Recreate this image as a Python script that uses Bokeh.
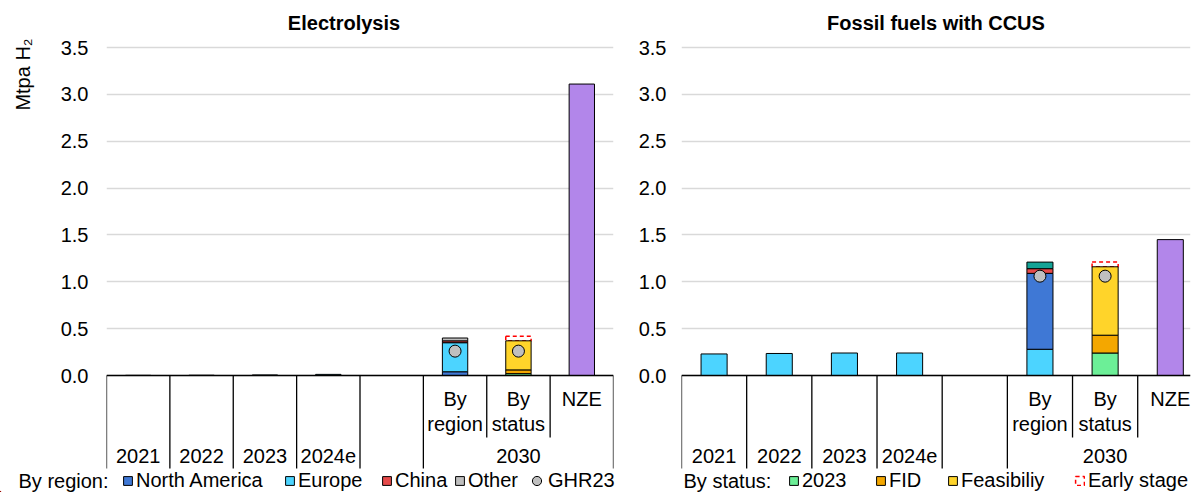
import math
from bokeh.plotting import figure
from bokeh.models import (Range1d, FixedTicker, NumeralTickFormatter, ColumnDataSource,
                          Legend, LegendItem, Span)
from bokeh.layouts import row, column
from bokeh.embed import file_html
from bokeh.resources import INLINE
from bokeh.core.properties import value

FONT = "Liberation Sans"
NAN = float("nan")

# ---------------- data ----------------
categories = ["2021", "2022", "2023", "2024e", "", "By region", "By status", "NZE"]
year_labels = ["2021", "2022", "2023", "2024e", "2030"]
year_label_slots = [0, 1, 2, 3, 6]          # 2030 spans the last three slots
sub_labels = ["By\nregion", "By\nstatus", "NZE"]
sub_label_slots = [5, 6, 7]
y_ticks = [0.0, 0.5, 1.0, 1.5, 2.0, 2.5, 3.0, 3.5]
y_label = "Mtpa H₂"

# Electrolysis (Mtpa H2)
el_north_america = [0, 0, 0, 0, 0, 0.04, 0, 0]
el_europe = [0.002, 0.003, 0.006, 0.012, 0, 0.31, 0, 0]
el_china = [0, 0, 0, 0, 0, 0.02, 0, 0]
el_other = [0, 0, 0, 0, 0, 0.03, 0, 0]
el_status_2023 = [0, 0, 0, 0, 0, 0, 0.02, 0]
el_fid = [0, 0, 0, 0, 0, 0, 0.04, 0]
el_feasibility = [0, 0, 0, 0, 0, 0, 0.31, 0]
el_early_stage = [0, 0, 0, 0, 0, 0, 0.05, 0]
el_nze = [0, 0, 0, 0, 0, 0, 0, 3.11]
el_ghr23 = [NAN, NAN, NAN, NAN, NAN, 0.26, 0.26, NAN]

# Fossil fuels with CCUS (Mtpa H2)
cc_europe = [0.23, 0.235, 0.24, 0.24, 0, 0.28, 0, 0]
cc_north_america = [0, 0, 0, 0, 0, 0.81, 0, 0]
cc_china = [0, 0, 0, 0, 0, 0.05, 0, 0]
cc_other = [0, 0, 0, 0, 0, 0.07, 0, 0]
cc_status_2023 = [0, 0, 0, 0, 0, 0, 0.24, 0]
cc_fid = [0, 0, 0, 0, 0, 0, 0.19, 0]
cc_feasibility = [0, 0, 0, 0, 0, 0, 0.73, 0]
cc_early_stage = [0, 0, 0, 0, 0, 0, 0.05, 0]
cc_nze = [0, 0, 0, 0, 0, 0, 0, 1.45]
cc_ghr23 = [NAN, NAN, NAN, NAN, NAN, 1.06, 1.06, NAN]

region_legend = ["North America", "Europe", "China", "Other"]
status_legend = ["2023", "FID", "Feasibiliy", "Early stage"]

# ---------------- colours ----------------
C_NA = "#3F78D5"
C_EU = "#4CD4FF"
C_CN = "#E64A4A"
C_OTHER_L = "#BFBFBF"
C_OTHER_R = "#14A396"
C_2023 = "#6CEF97"
C_FID = "#F4A700"
C_FEAS = "#FFD42A"
C_EARLY = "#FF0000"
C_NZE = "#B286EA"
C_GHR = "#BFBFBF"
GRID = "#D9D9D9"

# ---------------- layout (page pixels) ----------------
CHART_H = 469
GRID_TOP = 47        # y of the 3.5 gridline
ZERO_Y = 375         # y of the 0.0 line
TITLE_Y = 22
PX_PER_UNIT = (ZERO_Y - GRID_TOP) / 3.5
Y_TOP = (ZERO_Y) / PX_PER_UNIT
Y_BOTTOM = -(CHART_H - ZERO_Y) / PX_PER_UNIT
YLAB_W = 40


def py(page_y):
    """page y pixel -> data value"""
    return (ZERO_Y - page_y) / PX_PER_UNIT


def bar_style(p, dashed, color, **kw):
    if dashed:
        return p.vbar(width=0.4, fill_alpha=0, line_color=C_EARLY, line_dash="4 3",
                      line_width=1.5, **kw)
    return p.vbar(width=0.4, fill_color=color, line_color="black", line_width=1, **kw)


def make_chart(title, title_x, series, ghr, width, bl, br, x_end, standoff):
    p = figure(width=width, height=CHART_H, x_range=Range1d(0, x_end),
               y_range=Range1d(Y_BOTTOM, Y_TOP), x_axis_location=None,
               toolbar_location=None, output_backend="svg",
               min_border_left=bl, min_border_right=br, min_border_top=0,
               min_border_bottom=0, outline_line_color=None)

    p.xgrid.visible = False
    ax = p.yaxis[0]
    ax.ticker = FixedTicker(ticks=y_ticks)
    ax.formatter = NumeralTickFormatter(format="0.0")
    ax.axis_line_color = None
    ax.major_tick_line_color = None
    ax.minor_tick_line_color = None
    ax.major_tick_out = 0
    ax.major_tick_in = 0
    ax.major_label_standoff = standoff
    ax.major_label_text_font = FONT
    ax.major_label_text_font_size = "20px"
    ax.major_label_text_color = "black"
    p.ygrid.grid_line_color = GRID
    p.ygrid.grid_line_width = 1.5

    n = len(categories)
    bottoms = [0.0] * n
    rends = {}
    for name, vals, color, dashed in series:
        xs, b, t = [], [], []
        for i, v in enumerate(vals):
            if v > 0:
                xs.append(i + 0.5)
                b.append(bottoms[i])
                t.append(bottoms[i] + v)
                bottoms[i] += v
        src = ColumnDataSource(dict(x=xs, bottom=b, top=t))
        rends[name] = bar_style(p, dashed, color, x="x", bottom="bottom", top="top", source=src)
    # dashed outline drawn underneath the solid bars
    for name, vals, color, dashed in series:
        if dashed:
            r = rends[name]
            p.renderers.remove(r)
            p.renderers.insert(0, r)

    gx = [i + 0.5 for i, v in enumerate(ghr) if not math.isnan(v)]
    gy = [v for v in ghr if not math.isnan(v)]
    p.scatter(x=gx, y=gy, marker="circle", size=12,
              fill_color=C_GHR, line_color="black", line_width=1)

    # title
    p.text(x=[title_x], y=[py(TITLE_Y)], text=[title], text_align="center",
           text_baseline="middle", text_font=value(FONT), text_font_size="20px",
           text_font_style="bold", text_color="black")

    # category axis
    p.add_layout(Span(location=0, dimension="width", line_color="black", line_width=1.5))
    outer = [0, 1, 2, 3, 4, 5, 8]
    inner = [6, 7]
    p.segment(x0=outer, x1=outer, y0=[0] * len(outer), y1=[py(468)] * len(outer),
              line_color="black", line_width=1.3)
    p.segment(x0=inner, x1=inner, y0=[0] * len(inner), y1=[py(437)] * len(inner),
              line_color="black", line_width=1.3)
    p.text(x=[s + 0.5 for s in year_label_slots], y=[py(455)] * len(year_labels),
           text=year_labels, text_align="center", text_baseline="middle",
           text_font=value(FONT), text_font_size="20px", text_color="black")
    p.text(x=[s + 0.5 for s in sub_label_slots], y=[py(387)] * len(sub_labels),
           text=sub_labels, text_align="center", text_baseline="top", text_line_height=1.15,
           text_font=value(FONT), text_font_size="20px", text_color="black")
    return p


left_series = [
    ("North America", el_north_america, C_NA, False),
    ("Europe", el_europe, C_EU, False),
    ("China", el_china, C_CN, False),
    ("Other", el_other, C_OTHER_L, False),
    ("2023", el_status_2023, C_2023, False),
    ("FID", el_fid, C_FID, False),
    ("Feasibiliy", el_feasibility, C_FEAS, False),
    ("Early stage", el_early_stage, C_EARLY, True),
    ("NZE", el_nze, C_NZE, False),
]
right_series = [
    ("Europe", cc_europe, C_EU, False),
    ("North America", cc_north_america, C_NA, False),
    ("China", cc_china, C_CN, False),
    ("Other", cc_other, C_OTHER_R, False),
    ("2023", cc_status_2023, C_2023, False),
    ("FID", cc_fid, C_FID, False),
    ("Feasibiliy", cc_feasibility, C_FEAS, False),
    ("Early stage", cc_early_stage, C_EARLY, True),
    ("NZE", cc_nze, C_NZE, False),
]

# left frame: page x 106..613 (8 slots); right frame: page x 680..1190
p1 = make_chart("Electrolysis", (343.5 - 106) / 63.375, left_series, el_ghr23,
                595, 106 - YLAB_W, 22, 8, 18)
p2 = make_chart("Fossil fuels with CCUS", (935 - 680) / 65.3, right_series, cc_ghr23,
                557, 45, 2, 510 / 65.3, 15)

# ---------------- y-axis label strip ----------------
yl = figure(width=YLAB_W, height=CHART_H, x_range=Range1d(0, YLAB_W),
            y_range=Range1d(CHART_H, 0), toolbar_location=None, output_backend="svg",
            min_border=0, outline_line_color=None, x_axis_location=None, y_axis_location=None)
yl.grid.visible = False
yl.text(x=[22], y=[74], text=[y_label], angle=math.pi / 2, text_align="center",
        text_baseline="middle", text_font=value(FONT), text_font_size="20px",
        text_color="black")

# ---------------- legend strip ----------------
LEG_W, LEG_H = 1192, 23
lf = figure(width=LEG_W, height=LEG_H, x_range=Range1d(0, LEG_W), y_range=Range1d(0, LEG_H),
            toolbar_location=None, output_backend="svg", min_border=0,
            outline_line_color=None, x_axis_location=None, y_axis_location=None)
lf.grid.visible = False
lf.text(x=[18, 683], y=[LEG_H / 2, LEG_H / 2], text=["By region:", "By status:"],
        text_align="left", text_baseline="middle", text_font=value(FONT),
        text_font_size="20px", text_color="black")

colour_of = {"North America": C_NA, "Europe": C_EU, "China": C_CN, "Other": C_OTHER_L,
             "2023": C_2023, "FID": C_FID, "Feasibiliy": C_FEAS, "Early stage": C_EARLY}
# legend-only renderers sit left of the strip's visible range
HIDDEN_X = -50


def legend_renderer(name):
    return bar_style(lf, name == "Early stage", colour_of[name], x=[HIDDEN_X], top=[1])


def add_legend(label, renderer, x, glyph=11, standoff=3):
    lg = Legend(items=[LegendItem(label=label, renderers=[renderer])], location=(x, 0),
                orientation="horizontal", label_text_font=FONT, label_text_font_size="20px",
                label_text_color="black", label_standoff=standoff, label_height=20,
                glyph_width=glyph, glyph_height=glyph, spacing=0,
                padding=0, margin=0, border_line_color=None, background_fill_alpha=0)
    lf.add_layout(lg)


region_x = [122, 284, 381, 454]
status_x = [788, 875, 947, 1074]
for name, x in zip(region_legend, region_x):
    add_legend(name, legend_renderer(name), x)
for name, x in zip(status_legend, status_x):
    add_legend(name, legend_renderer(name), x)
ghr_r = lf.scatter(x=[HIDDEN_X], y=[0], marker="circle", size=10, fill_color=C_GHR,
                   line_color="black", line_width=1)
add_legend("GHR23", ghr_r, 525, glyph=23, standoff=0)

layout = column(row(yl, p1, p2), lf)
open("out.html", "w").write(file_html(layout, INLINE))
